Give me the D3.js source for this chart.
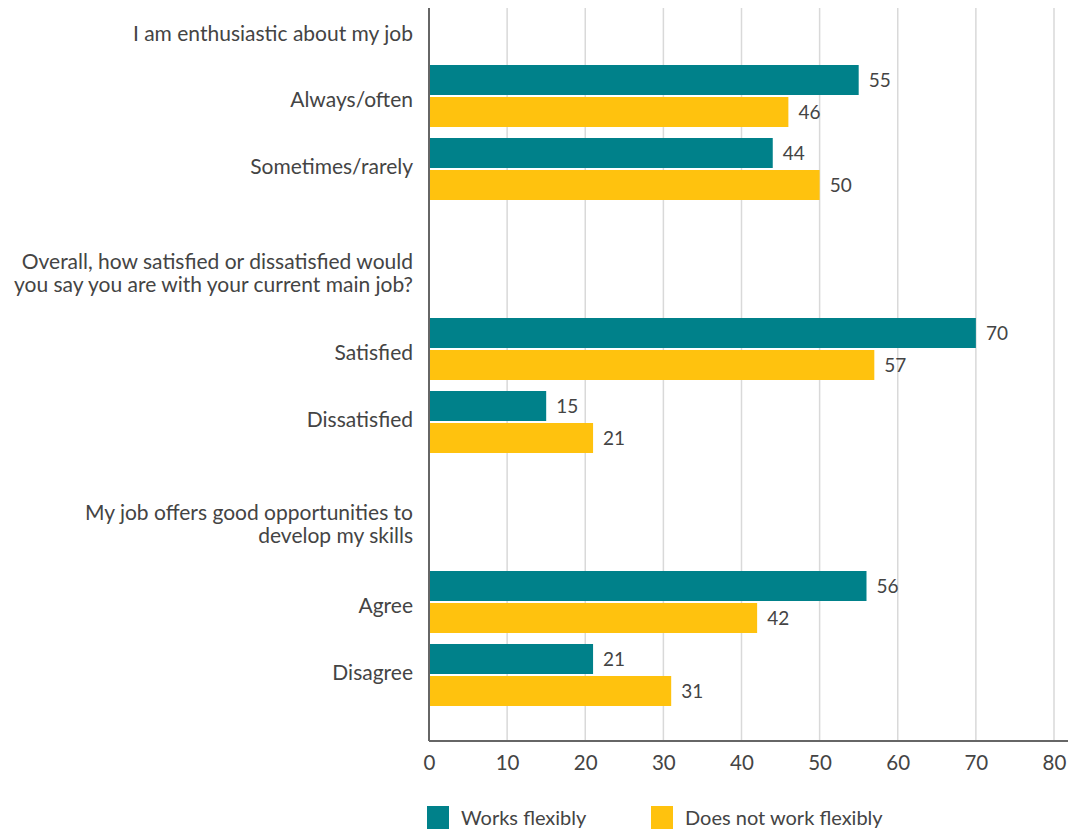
<!DOCTYPE html>
<html>
<head>
<meta charset="utf-8">
<script src="https://cdn.jsdelivr.net/npm/d3@7"></script>
<style>
  body { margin: 0; background: #fff; }
  text { font-family: Lato, "Open Sans", sans-serif; fill: #444; }
</style>
</head>
<body>
<svg id="chart" width="1072" height="830"></svg>
<script>
// Question headings (one per group), possibly multi-line
const questions = [
  ["I am enthusiastic about my job"],
  ["Overall, how satisfied or dissatisfied would", "you say you are with your current main job?"],
  ["My job offers good opportunities to", "develop my skills"]
];
// Answer categories per group
const answers = [
  ["Always/often", "Sometimes/rarely"],
  ["Satisfied", "Dissatisfied"],
  ["Agree", "Disagree"]
];
const seriesNames = ["Works flexibly", "Does not work flexibly"];
const worksFlexibly = [55, 44, 70, 15, 56, 21];
const notFlexibly = [46, 50, 57, 21, 42, 31];
const xTicks = [0, 10, 20, 30, 40, 50, 60, 70, 80];
const colors = ["#00818a", "#ffc20e"];

const svg = d3.select("#chart");
const plotLeft = 429, plotRight = 1068, plotTop = 8, plotBottom = 741;
const labelFont = 21;
const labelX = 413;

const x = d3.scaleLinear().domain([0, 80]).range([plotLeft, 1054]);

// Vertical layout: group offset + answer offset within group
const yGroup = d3.scaleLinear().domain([0, 1]).range([0, 253]);
const yAnswer = d3.scaleLinear().domain([0, 1]).range([96, 169]);
function answerCenter(g, i) { return yGroup(g) + yAnswer(i); }

const flat = [];
answers.forEach((arr, g) => arr.forEach((a, i) => {
  const k = flat.length;
  flat.push({ g, i, label: a, v: [worksFlexibly[k], notFlexibly[k]] });
}));

const barH = 30, gap = 2;

// Gridlines
svg.append("g").selectAll("line").data(xTicks.slice(1)).join("line")
  .attr("x1", d => x(d)).attr("x2", d => x(d))
  .attr("y1", plotTop).attr("y2", plotBottom)
  .attr("stroke", "#d9d9d9").attr("stroke-width", 1.5);

// Bars, value labels and answer labels
const rows = svg.append("g").selectAll("g").data(flat).join("g");
rows.each(function(d) {
  const c = answerCenter(d.g, d.i);
  const g = d3.select(this);
  d.v.forEach((v, s) => {
    const y0 = s === 0 ? c - gap / 2 - barH : c + gap / 2;
    g.append("rect")
      .attr("x", x(0)).attr("y", y0)
      .attr("width", x(v) - x(0)).attr("height", barH)
      .attr("fill", colors[s]);
    g.append("text")
      .attr("x", x(v) + 10).attr("y", y0 + barH / 2 + 7)
      .attr("font-size", 19)
      .text(v);
  });
  g.append("text")
    .attr("x", labelX).attr("y", c + 10.5 - 5.7 * d.i)
    .attr("text-anchor", "end").attr("font-size", labelFont)
    .text(d.label);
});

// Question headings
questions.forEach((lines, g) => {
  const last = 41 + yGroup(g) - 2 * g;
  lines.forEach((ln, j) => {
    svg.append("text")
      .attr("x", labelX).attr("y", last - (lines.length - 1 - j) * 23.5)
      .attr("text-anchor", "end").attr("font-size", labelFont)
      .text(ln);
  });
});

// Axes
const xAxis = d3.axisBottom(x).tickValues(xTicks).tickSize(0).tickPadding(14);
const ax = svg.append("g").attr("transform", `translate(0,${plotBottom})`).call(xAxis);
ax.select(".domain").remove();
ax.selectAll("text").attr("font-size", 20.5).style("font-family", "Lato, 'Open Sans', sans-serif").attr("fill", "#444");
svg.append("line").attr("x1", plotLeft).attr("x2", plotRight).attr("y1", plotBottom).attr("y2", plotBottom)
  .attr("stroke", "#666").attr("stroke-width", 2);
svg.append("line").attr("x1", plotLeft).attr("x2", plotLeft).attr("y1", plotTop).attr("y2", plotBottom)
  .attr("stroke", "#666").attr("stroke-width", 2);

// Legend
const legX = [427, 651];
seriesNames.forEach((n, s) => {
  svg.append("rect").attr("x", legX[s]).attr("y", 806).attr("width", 22).attr("height", 23)
    .attr("fill", colors[s]);
  svg.append("text").attr("x", legX[s] + 34).attr("y", 825)
    .attr("font-size", 20).text(n);
});
</script>
</body>
</html>
